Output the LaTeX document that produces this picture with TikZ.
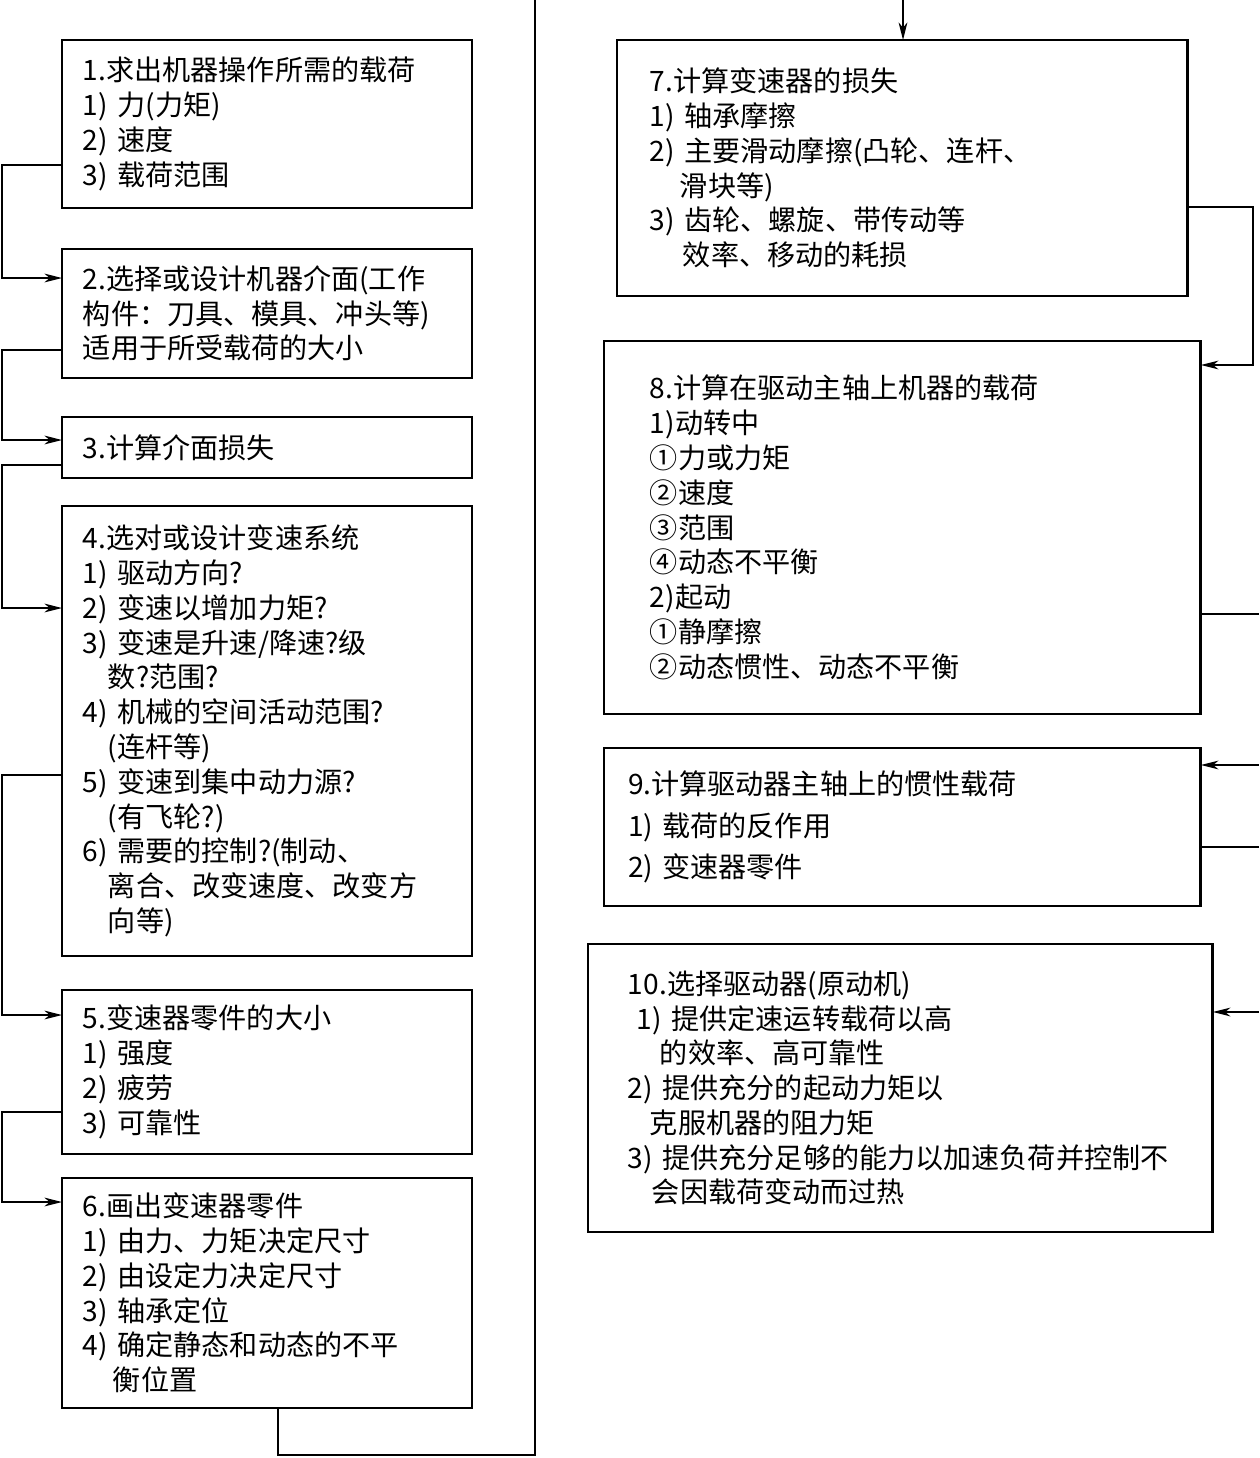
\documentclass[tikz,border=0pt]{standalone}
\usepackage{fontspec}
\setmainfont{Noto Sans CJK SC}
\usetikzlibrary{arrows.meta, calc}

\begin{document}
\begin{tikzpicture}[
  x=0.02cm, y=-0.02cm,
  box/.style={draw, line width=1.6pt, anchor=north west, align=left, inner ysep=0pt, outer sep=0pt, font=\fontsize{16pt}{19.8pt}\selectfont},
  lbox/.style={box, inner xsep=0.42cm, minimum width=8.2cm, text width=7.36cm},
  line/.style={line width=0.8pt},
  arrow/.style={line, -{Stealth[length=10pt, width=5pt, inset=3pt]}}
]
\useasboundingbox (0,0) rectangle (1259,1458);

% left column
\node (b1) [lbox, minimum height=3.36cm] at (62,40) {1.求出机器操作所需的载荷\\1) 力(力矩)\\2) 速度\\3) 载荷范围};
\node (b2) [lbox, minimum height=2.58cm] at (62,249) {2.选择或设计机器介面(工作\\构件：刀具、模具、冲头等)\\适用于所受载荷的大小};
\node (b3) [lbox, minimum height=1.22cm] at (62,417) {3.计算介面损失};
\node (b4) [lbox, minimum height=9.0cm] at (62,506) {4.选对或设计变速系统\\1) 驱动方向?\\2) 变速以增加力矩?\\3) 变速是升速/降速?级\\\hspace*{0.5cm}数?范围?\\4) 机械的空间活动范围?\\\hspace*{0.5cm}(连杆等)\\5) 变速到集中动力源?\\\hspace*{0.5cm}(有飞轮?)\\6) 需要的控制?(制动、\\\hspace*{0.5cm}离合、改变速度、改变方\\\hspace*{0.5cm}向等)};
\node (b5) [lbox, minimum height=3.28cm] at (62,990) {5.变速器零件的大小\\1) 强度\\2) 疲劳\\3) 可靠性};
\node (b6) [lbox, minimum height=4.6cm] at (62,1178) {6.画出变速器零件\\1) 由力、力矩决定尺寸\\2) 由设定力决定尺寸\\3) 轴承定位\\4) 确定静态和动态的不平\\\hspace*{0.6cm}衡位置};

% right column
\node (b7) [box, inner xsep=0.66cm, minimum width=11.42cm, text width=10.1cm, minimum height=5.12cm] at (617,40) {7.计算变速器的损失\\1) 轴承摩擦\\2) 主要滑动摩擦(凸轮、连杆、\\\hspace*{0.6cm}滑块等)\\3) 齿轮、螺旋、带传动等\\\hspace*{0.66cm}效率、移动的耗损};
\node (b8) [box, inner xsep=0.92cm, minimum width=11.94cm, text width=10.1cm, minimum height=7.46cm] at (604,341) {8.计算在驱动主轴上机器的载荷\\1)动转中\\①力或力矩\\②速度\\③范围\\④动态不平衡\\2)起动\\①静摩擦\\②动态惯性、动态不平衡};
\node (b9) [box, inner xsep=0.48cm, minimum width=11.94cm, text width=10.98cm, minimum height=3.16cm] at (604,748) {9.计算驱动器主轴上的惯性载荷\\[4pt]1) 载荷的反作用\\[4pt]2) 变速器零件};
\node (b10) [box, inner xsep=0.8cm, minimum width=12.5cm, text width=10.9cm, minimum height=5.76cm] at (588,944) {10.选择驱动器(原动机)\\\hspace*{0.18cm}1) 提供定速运转载荷以高\\\hspace*{0.64cm}的效率、高可靠性\\2) 提供充分的起动力矩以\\\hspace*{0.44cm}克服机器的阻力矩\\3) 提供充分足够的能力以加速负荷并控制不\\\hspace*{0.48cm}会因载荷变动而过热};

% left connectors
\draw [arrow] ($(b1.south west)+(0,-43)$) -- ++(-60,0) |- ($(b2.north west)+(0,29)$);
\draw [arrow] ($(b2.south west)+(0,-28)$) -- ++(-60,0) |- ($(b3.north west)+(0,23)$);
\draw [arrow] ($(b3.south west)+(0,-13)$) -- ++(-60,0) |- ($(b4.north west)+(0,102)$);
\draw [arrow] ($(b4.north west)+(0,269)$) -- ++(-60,0) |- ($(b5.north west)+(0,25)$);
\draw [arrow] ($(b5.south west)+(0,-42)$) -- ++(-60,0) |- ($(b6.north west)+(0,24)$);

% from bottom of left column up to the top
\coordinate (up) at (535,0);
\draw [line] ($(b6.south west)+(216,0)$) |- (up |- 0,1455) -- (up);
\coordinate (down) at (903,0);
\draw [arrow] (down) -- (down |- b7.north);

% right connectors
\draw [arrow] ($(b7.north east)+(0,167)$) -- ++(65,0) |- ($(b8.north east)+(0,24)$);
\draw [line] ($(b8.north east)+(0,273)$) -- ++(58,0);
\draw [arrow] ($(b9.north east)+(58,17)$) -- ($(b9.north east)+(0,17)$);
\draw [line] ($(b9.north east)+(0,99)$) -- ++(58,0);
\draw [arrow] ($(b10.north east)+(46,68)$) -- ($(b10.north east)+(0,68)$);

\end{tikzpicture}
\end{document}
